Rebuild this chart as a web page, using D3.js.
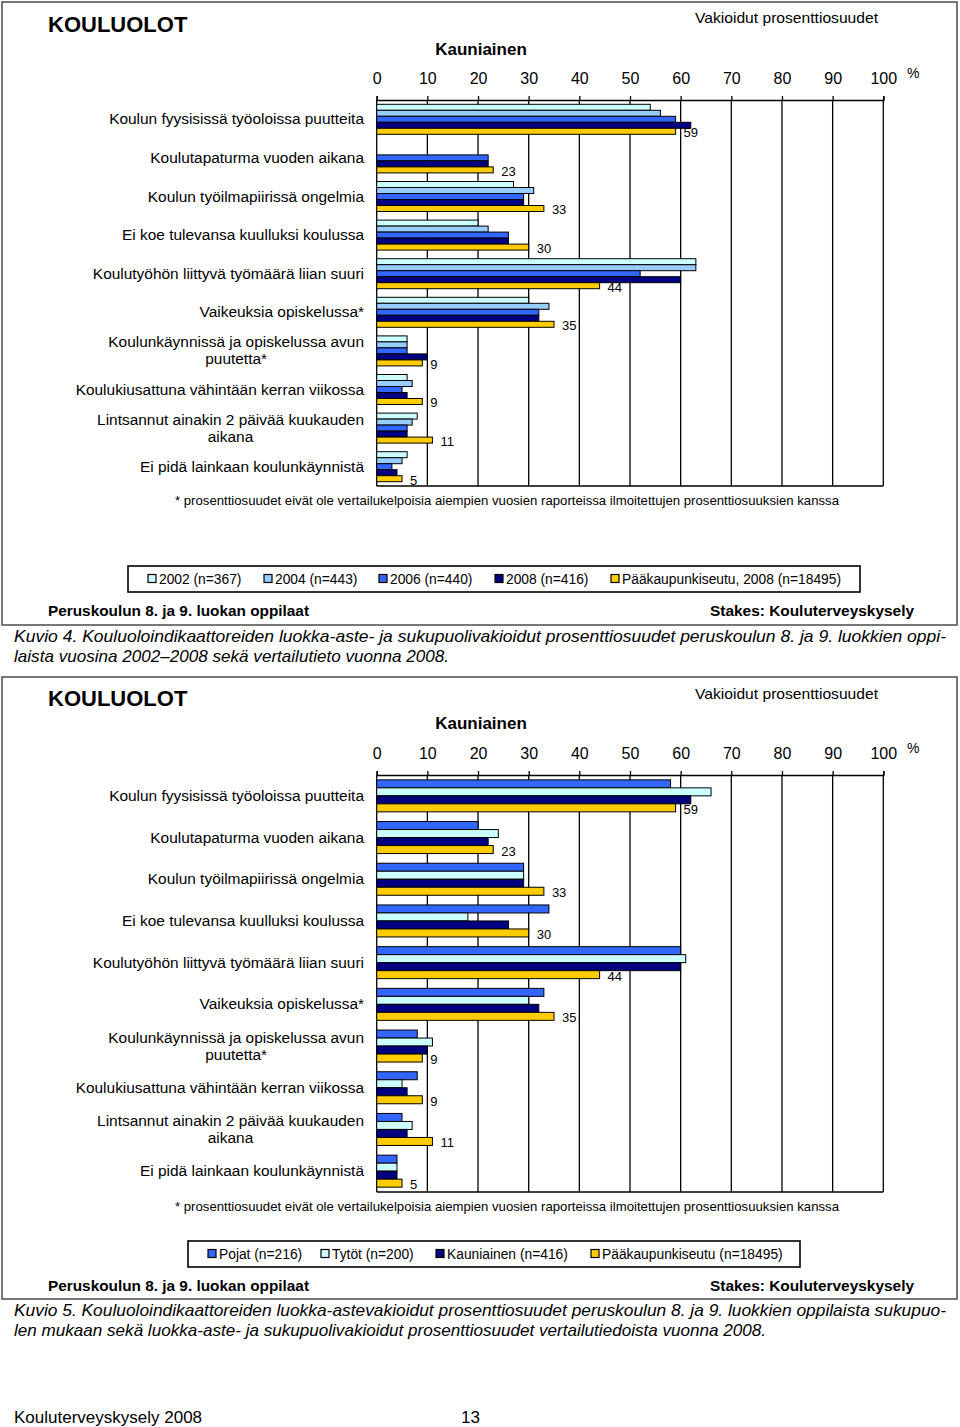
<!DOCTYPE html>
<html><head><meta charset="utf-8">
<script src="https://cdn.jsdelivr.net/npm/d3@7"></script>
<style>
body{margin:0;background:#fff}
svg{display:block}
text{font-family:"Liberation Sans",Arial,Helvetica,sans-serif;fill:#000}
</style>
</head><body>
<svg id="chart" width="960" height="1427"></svg>
<script>
// ---------- DATA ----------
const categories = [
  ["Koulun fyysisissä työoloissa puutteita"],
  ["Koulutapaturma vuoden aikana"],
  ["Koulun työilmapiirissä ongelmia"],
  ["Ei koe tulevansa kuulluksi koulussa"],
  ["Koulutyöhön liittyvä työmäärä liian suuri"],
  ["Vaikeuksia opiskelussa*"],
  ["Koulunkäynnissä ja opiskelussa avun", "puutetta*"],
  ["Koulukiusattuna vähintään kerran viikossa"],
  ["Lintsannut ainakin 2 päivää kuukauden", "aikana"],
  ["Ei pidä lainkaan koulunkäynnistä"]
];
const tickValues = [0, 10, 20, 30, 40, 50, 60, 70, 80, 90, 100];

// Chart 1 (Kuvio 4): years
const yearSeriesNames = ["2002 (n=367)", "2004 (n=443)", "2006 (n=440)", "2008 (n=416)", "Pääkaupunkiseutu, 2008 (n=18495)"];
const v2002 = [54, null, 27, 20, 63, 30, 6, 6, 8, 6];
const v2004 = [56, null, 31, 22, 63, 34, 6, 7, 7, 5];
const v2006 = [59, 22, 29, 26, 52, 32, 6, 5, 6, 3];
const v2008 = [62, 22, 29, 26, 60, 32, 10, 6, 6, 4];
const vPks2008 = [59, 23, 33, 30, 44, 35, 9, 9, 11, 5];

// Chart 2 (Kuvio 5): sex
const sexSeriesNames = ["Pojat (n=216)", "Tytöt (n=200)", "Kauniainen (n=416)", "Pääkaupunkiseutu  (n=18495)"];
const vPojat = [58, 20, 29, 34, 60, 33, 8, 8, 5, 4];
const vTytot = [66, 24, 29, 18, 61, 30, 11, 5, 7, 4];
const vKauniainen = [62, 22, 29, 26, 60, 32, 10, 6, 6, 4];
const vPks = [59, 23, 33, 30, 44, 35, 9, 9, 11, 5];

// ---------- STYLE ----------
const yearColors = ["#CCFFFF", "#99CCFF", "#3366FF", "#000080", "#FFCC00"];
const sexColors = ["#3366FF", "#CCFFFF", "#000080", "#FFCC00"];

const svg = d3.select("#chart");
const x = d3.scaleLinear().domain([0, 100]).range([376.7, 883.3]);

function drawPanel(o) {
  const g = svg.append("g");
  // panel frame
  g.append("rect").attr("x", o.frame[0]).attr("y", o.frame[1])
    .attr("width", o.frame[2]).attr("height", o.frame[3])
    .attr("fill", "none").attr("stroke", "#555").attr("stroke-width", 1.6);

  g.append("text").attr("x", 48).attr("y", o.titleY)
    .style("font-size", "22px").style("font-weight", "bold").text("KOULUOLOT");
  g.append("text").attr("x", 878).attr("y", o.vakY).attr("text-anchor", "end")
    .attr("textLength", 183).attr("lengthAdjust", "spacingAndGlyphs")
    .style("font-size", "15px").text("Vakioidut prosenttiosuudet");
  g.append("text").attr("x", 481).attr("y", o.kauY).attr("text-anchor", "middle")
    .style("font-size", "17px").style("font-weight", "bold").text("Kauniainen");

  // band scales
  const y0 = d3.scaleBand().domain(d3.range(categories.length)).range([o.plotTop, o.plotBottom]);
  const y1 = d3.scaleBand().domain(d3.range(o.series.length)).range([0, y0.bandwidth()])
    .paddingOuter(o.innerPad);

  // gridlines
  g.append("g").selectAll("line").data(tickValues).join("line")
    .attr("x1", d => x(d)).attr("x2", d => x(d))
    .attr("y1", o.plotTop).attr("y2", o.plotBottom)
    .attr("stroke", "#000").attr("stroke-width", 1.3);
  // bottom line
  g.append("line").attr("x1", x(0)).attr("x2", x(100))
    .attr("y1", o.plotBottom).attr("y2", o.plotBottom)
    .attr("stroke", "#000").attr("stroke-width", 1.5);

  // top axis
  const ax = g.append("g").attr("transform", `translate(0,${o.plotTop})`)
    .call(d3.axisTop(x).tickValues(tickValues).tickSize(4).tickPadding(12).tickFormat(d3.format("d")));
  ax.select(".domain").attr("stroke", "#000").attr("stroke-width", 1.5);
  ax.selectAll(".tick line").attr("stroke", "#000").attr("stroke-width", 1.3);
  ax.selectAll(".tick text").style("font-size", "16px")
    .style("font-family", '"Liberation Sans",Arial,sans-serif').attr("fill", "#000");
  g.append("text").attr("x", 907).attr("y", o.plotTop - 22).style("font-size", "14px").text("%");

  // bars
  o.series.forEach((vals, si) => {
    g.append("g").selectAll("rect").data(vals.map((v, i) => ({v, i}))
      .filter(d => d.v !== null)).join("rect")
      .attr("x", x(0))
      .attr("y", d => y0(d.i) + y1(si))
      .attr("width", d => x(d.v) - x(0))
      .attr("height", y1.bandwidth())
      .attr("fill", o.colors[si]).attr("stroke", "#000").attr("stroke-width", 1);
  });
  // value labels on last series
  const last = o.series.length - 1;
  g.append("g").selectAll("text").data(o.series[last].map((v, i) => ({v, i}))).join("text")
    .attr("x", d => x(d.v) + 8)
    .attr("y", d => y0(d.i) + y1(last) + y1.bandwidth() / 2 + 6)
    .style("font-size", "13px").text(d => d.v);

  // category labels
  const fs = "15.45px";
  categories.forEach((lines, i) => {
    const cy = y0(i) + y0.bandwidth() / 2;
    if (lines.length === 1) {
      g.append("text").attr("x", 364).attr("y", cy + 5).attr("text-anchor", "end")
        .style("font-size", fs).text(lines[0]);
    } else {
      const t1 = g.append("text").attr("x", 364).attr("y", cy - 3.5).attr("text-anchor", "end")
        .style("font-size", fs).text(lines[0]);
      const w = t1.node().getComputedTextLength();
      g.append("text").attr("x", 364 - w / 2).attr("y", cy + 13.5).attr("text-anchor", "middle")
        .style("font-size", fs).text(lines[1]);
    }
  });

  // footnote
  g.append("text").attr("x", 175).attr("y", o.plotBottom + 19)
    .attr("textLength", 664).attr("lengthAdjust", "spacingAndGlyphs")
    .style("font-size", "13px")
    .text("* prosenttiosuudet eivät ole vertailukelpoisia aiempien vuosien raporteissa ilmoitettujen prosenttiosuuksien kanssa");

  // legend
  const lb = o.legendBox;
  g.append("rect").attr("x", lb[0]).attr("y", lb[1]).attr("width", lb[2]).attr("height", lb[3])
    .attr("fill", "#fff").attr("stroke", "#000").attr("stroke-width", 1.6);
  const ly = lb[1] + lb[3] / 2;
  o.names.forEach((n, i) => {
    g.append("rect").attr("x", o.legendX[i]).attr("y", ly - 4.5).attr("width", 8).attr("height", 8)
      .attr("fill", o.colors[i]).attr("stroke", "#000").attr("stroke-width", 1.2);
    g.append("text").attr("x", o.legendX[i] + 11).attr("y", ly + 5)
      .style("font-size", "13.8px").text(n);
  });

  // source line
  g.append("text").attr("x", 48).attr("y", o.srcY)
    .attr("textLength", 261).attr("lengthAdjust", "spacingAndGlyphs")
    .style("font-size", "15px").style("font-weight", "bold").text("Peruskoulun 8. ja 9. luokan oppilaat");
  g.append("text").attr("x", 914).attr("y", o.srcY).attr("text-anchor", "end")
    .attr("textLength", 204).attr("lengthAdjust", "spacingAndGlyphs")
    .style("font-size", "15px").style("font-weight", "bold").text("Stakes: Kouluterveyskysely");

  // caption
  o.caption.forEach((c, i) => {
    g.append("text").attr("x", 14).attr("y", o.capY + i * 20)
      .attr("textLength", c[1]).attr("lengthAdjust", "spacingAndGlyphs")
      .style("font-size", "17px").style("font-style", "italic").text(c[0]);
  });
}

drawPanel({
  frame: [2, 2, 955, 623],
  titleY: 32, vakY: 23, kauY: 55,
  plotTop: 100, plotBottom: 486,
  series: [v2002, v2004, v2006, v2008, vPks2008],
  names: yearSeriesNames, colors: yearColors,
  innerPad: 0.717,
  legendBox: [128, 566, 732, 26],
  legendX: [148, 264, 379, 495, 611],
  srcY: 616,
  capY: 642,
  caption: [
    ["Kuvio 4. Kouluoloindikaattoreiden luokka-aste- ja sukupuolivakioidut prosenttiosuudet peruskoulun 8. ja 9. luokkien oppi-", 932],
    ["laista vuosina 2002–2008 sekä vertailutieto vuonna 2008.", 435]
  ]
});

drawPanel({
  frame: [2, 677, 955, 622],
  titleY: 706, vakY: 699, kauY: 729,
  plotTop: 775, plotBottom: 1192,
  series: [vPojat, vTytot, vKauniainen, vPks],
  names: sexSeriesNames, colors: sexColors,
  innerPad: 0.606,
  legendBox: [188, 1241, 612, 26],
  legendX: [208, 321, 436, 591],
  srcY: 1291,
  capY: 1316,
  caption: [
    ["Kuvio 5. Kouluoloindikaattoreiden luokka-astevakioidut prosenttiosuudet peruskoulun 8. ja 9. luokkien oppilaista sukupuo-", 932],
    ["len mukaan sekä luokka-aste- ja sukupuolivakioidut prosenttiosuudet vertailutiedoista vuonna 2008.", 752]
  ]
});

// page footer
svg.append("text").attr("x", 14).attr("y", 1423).style("font-size", "17px").text("Kouluterveyskysely 2008");
svg.append("text").attr("x", 461).attr("y", 1423).style("font-size", "17px").text("13");
</script>
</body></html>
